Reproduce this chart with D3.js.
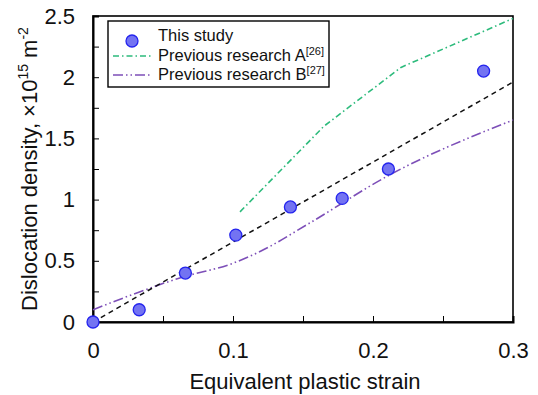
<!DOCTYPE html>
<html>
<head>
<meta charset="utf-8">
<script src="https://cdn.jsdelivr.net/npm/d3@7"></script>
<style>
  body { margin: 0; background: #fff; }
  svg { display: block; font-family: "Liberation Sans", Arial, sans-serif; }
</style>
</head>
<body>
<svg width="538" height="395"></svg>
<script>
// data
var studyStrain = [0, 0.033, 0.066, 0.102, 0.141, 0.178, 0.211, 0.279];
var studyDensity = [0, 0.10, 0.40, 0.71, 0.94, 1.01, 1.25, 2.05];
var fitStrain = [0, 0.3];
var fitDensity = [0, 1.96];
var aStrain = [0.105, 0.165, 0.22, 0.3];
var aDensity = [0.9, 1.6, 2.08, 2.48];
var bStrain = [0, 0.065, 0.1, 0.12, 0.155, 0.21, 0.3];
var bDensity = [0.1, 0.37, 0.48, 0.58, 0.81, 1.19, 1.65];
var xTicks = [0, 0.1, 0.2, 0.3];
var yTicks = [0, 0.5, 1, 1.5, 2, 2.5];

var svg = d3.select("svg");
var plotL = 93, plotR = 513, plotT = 16, plotB = 322;

var x = d3.scaleLinear().domain([0, 0.3]).range([plotL, plotR]);
var y = d3.scaleLinear().domain([0, 2.5]).range([plotB, plotT]);

function isLabel(list, d) {
  return list.some(function(t) { return Math.abs(t - d) < 1e-9; });
}

// frame
svg.append("rect")
    .attr("x", plotL).attr("y", plotT)
    .attr("width", plotR - plotL).attr("height", plotB - plotT)
    .attr("fill", "none").attr("stroke", "#000").attr("stroke-width", 1.6);

// inward ticks, minor and major same length
var xAxis = d3.axisBottom(x).tickValues(d3.range(0, 0.301, 0.05))
    .tickSize(-6).tickPadding(20)
    .tickFormat(function(d) { return isLabel(xTicks, d) ? String(+d.toFixed(2)) : ""; });
var gx = svg.append("g").attr("transform", "translate(0," + plotB + ")").call(xAxis);
gx.select(".domain").attr("stroke-width", 2);
gx.selectAll("text").attr("font-size", 22).attr("fill", "#111").attr("font-family", "Liberation Sans, Arial, sans-serif");

var yAxis = d3.axisLeft(y).tickValues(d3.range(0, 2.501, 0.25))
    .tickSize(-6).tickPadding(18)
    .tickFormat(function(d) { return isLabel(yTicks, d) ? String(+d.toFixed(2)) : ""; });
var gy = svg.append("g").attr("transform", "translate(" + plotL + ",0)").call(yAxis);
gy.select(".domain").attr("stroke-width", 2);
gy.selectAll("text").attr("font-size", 22).attr("fill", "#111").attr("font-family", "Liberation Sans, Arial, sans-serif");

// lines
var line = d3.line().x(function(d) { return x(d[0]); }).y(function(d) { return y(d[1]); });
var curved = d3.line().x(function(d) { return x(d[0]); }).y(function(d) { return y(d[1]); })
    .curve(d3.curveMonotoneX);

svg.append("path")
    .attr("d", line(d3.zip(aStrain, aDensity)))
    .attr("fill", "none").attr("stroke", "#2dbb7c").attr("stroke-width", 1.6)
    .attr("stroke-dasharray", "6,3,1.5,3");

svg.append("path")
    .attr("d", curved(d3.zip(bStrain, bDensity)))
    .attr("fill", "none").attr("stroke", "#7d4fb8").attr("stroke-width", 1.6)
    .attr("stroke-dasharray", "10,3,1.5,3,1.5,3");

svg.append("path")
    .attr("d", line(d3.zip(fitStrain, fitDensity)))
    .attr("fill", "none").attr("stroke", "#111").attr("stroke-width", 1.5)
    .attr("stroke-dasharray", "5,4");

// points
svg.append("g").selectAll("circle")
    .data(d3.zip(studyStrain, studyDensity))
    .enter().append("circle")
    .attr("cx", function(d) { return x(d[0]); })
    .attr("cy", function(d) { return y(d[1]); })
    .attr("r", 6)
    .attr("fill", "#7373f2").attr("stroke", "#2424ee").attr("stroke-width", 1.3);

// axis titles
svg.append("text")
    .attr("x", 305).attr("y", 389)
    .attr("text-anchor", "middle").attr("font-size", 22).attr("fill", "#111")
    .text("Equivalent plastic strain");

var yl = svg.append("text")
    .attr("transform", "translate(37,169) rotate(-90)")
    .attr("text-anchor", "middle").attr("font-size", 22).attr("fill", "#111");
yl.append("tspan").text("Dislocation density, ×10");
yl.append("tspan").attr("font-size", 14).attr("dy", -9).text("15");
yl.append("tspan").attr("dy", 9).text(" m");
yl.append("tspan").attr("font-size", 14).attr("dy", -9).text("-2");

// legend
var lg = svg.append("g");
lg.append("rect").attr("x", 108).attr("y", 21).attr("width", 221).attr("height", 66)
    .attr("fill", "#fff").attr("stroke", "#000").attr("stroke-width", 1.4);
lg.append("circle").attr("cx", 132).attr("cy", 41).attr("r", 6)
    .attr("fill", "#7373f2").attr("stroke", "#2424ee").attr("stroke-width", 1.3);
lg.append("line").attr("x1", 113).attr("x2", 151).attr("y1", 56).attr("y2", 56)
    .attr("stroke", "#2dbb7c").attr("stroke-width", 1.6).attr("stroke-dasharray", "6,3,1.5,3");
lg.append("line").attr("x1", 113).attr("x2", 151).attr("y1", 75).attr("y2", 75)
    .attr("stroke", "#7d4fb8").attr("stroke-width", 1.6).attr("stroke-dasharray", "10,3,1.5,3,1.5,3");
var labels = [["This study", ""], ["Previous research A", "[26]"], ["Previous research B", "[27]"]];
labels.forEach(function(l, i) {
  var t = lg.append("text").attr("x", 158).attr("y", 41 + i * 19.5).attr("font-size", 16.5).attr("fill", "#111");
  t.append("tspan").text(l[0]);
  if (l[1]) t.append("tspan").attr("font-size", 11).attr("dy", -6).text(l[1]);
});
</script>
</body>
</html>
